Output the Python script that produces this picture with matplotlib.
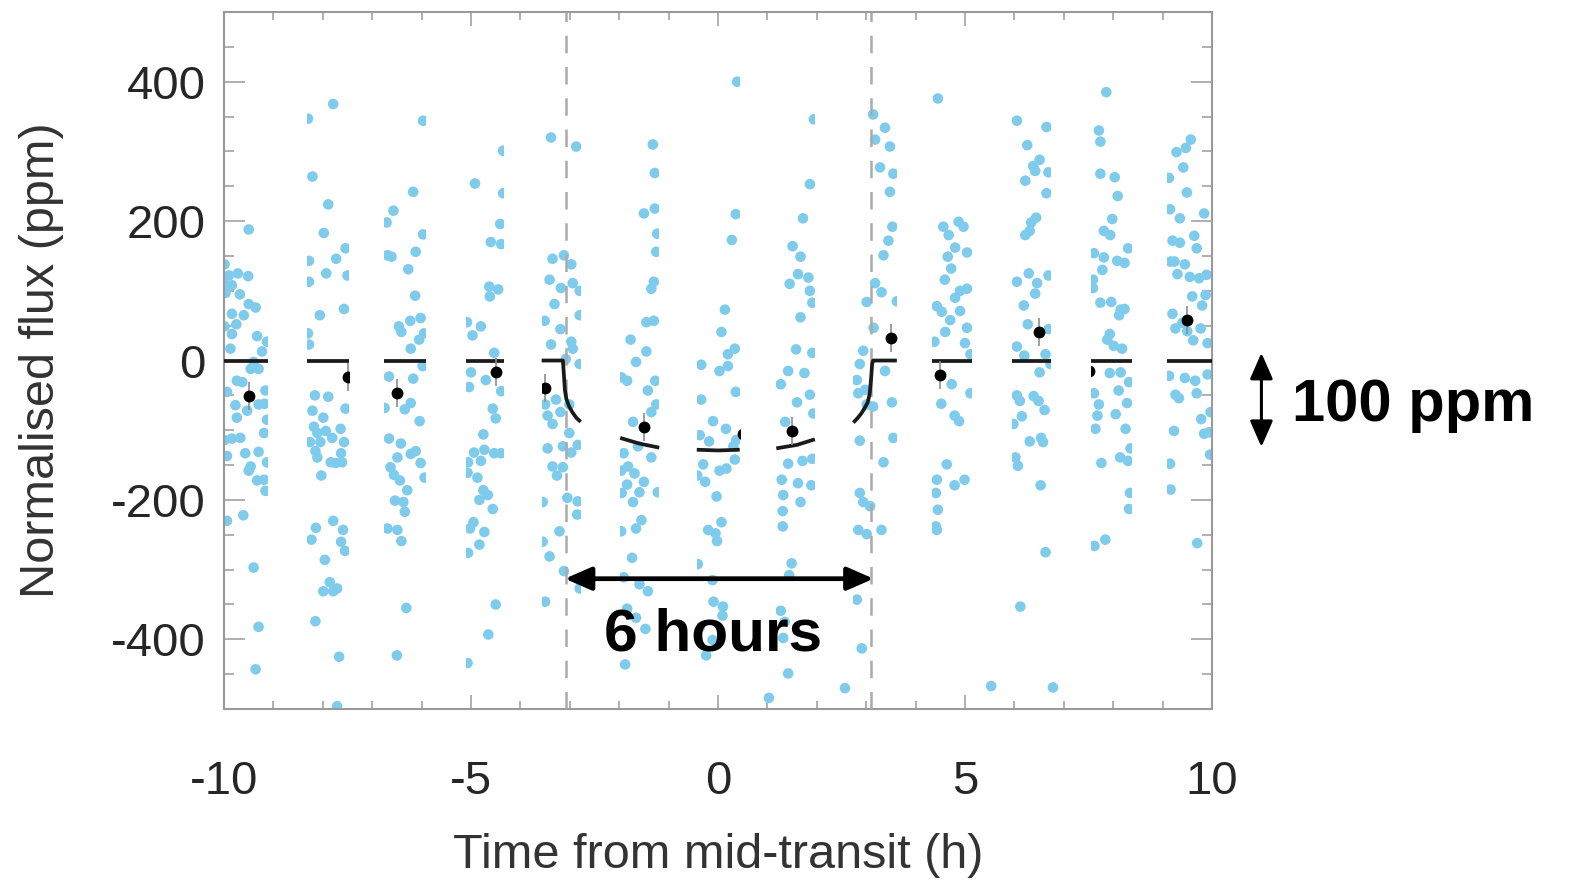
import numpy as np
import matplotlib.pyplot as plt
from matplotlib.patches import Rectangle
from matplotlib.ticker import MultipleLocator

plt.rcParams['font.family'] = ['Liberation Sans', 'DejaVu Sans']
plt.rcParams['axes.unicode_minus'] = False

# time windows covered by each orbit (h)
chunk_lo = [-10.0, -8.31, -6.76, -5.10, -3.57, -1.98, -0.43, 1.18, 2.74, 4.34, 5.96, 7.56, 9.09]
chunk_hi = [-9.11, -7.47, -5.92, -4.33, -2.78, -1.19, 0.44, 1.96, 3.62, 5.14, 6.74, 8.38, 10.0]

# unbinned points (time h, flux ppm) per orbit
chunk1 = [(-9.50, 188), (-9.99, 138), (-9.90, 122), (-9.72, 125), (-9.51, 121), (-9.99, 110), (-9.84, 108),
          (-9.97, 97), (-9.68, 95), (-9.50, 81), (-9.36, 76), (-9.84, 67), (-9.60, 65), (-9.99, 49), (-9.75, 52),
          (-9.84, 38), (-9.33, 35), (-9.87, 17), (-9.23, 13), (-9.13, 27), (-9.46, -12), (-9.30, -12), (-9.40, -2),
          (-9.74, -29), (-9.63, -31), (-9.94, -45), (-9.53, -72), (-9.16, -43), (-9.77, -64), (-9.30, -63),
          (-9.18, -62), (-9.13, -85), (-9.74, -82), (-9.99, -114), (-9.67, -111), (-9.84, -112), (-9.19, -104),
          (-9.94, -137), (-9.57, -133), (-9.30, -131), (-9.46, -152), (-9.13, -146), (-9.50, -158), (-9.33, -172),
          (-9.19, -171), (-9.16, -187), (-9.61, -222), (-9.94, -230), (-9.40, -297), (-9.30, -382), (-9.36, -443)]
chunk2 = [(-7.79, 368), (-8.30, 347), (-8.21, 264), (-7.89, 224), (-7.98, 183), (-7.54, 161), (-7.73, 146),
          (-8.28, 143), (-7.93, 125), (-8.28, 113), (-7.50, 122), (-7.57, 74), (-8.06, 65), (-8.30, 39), (-8.28, 23),
          (-8.16, -50), (-7.89, -52), (-8.21, -72), (-7.99, -82), (-7.54, -69), (-8.18, -95), (-8.11, -104),
          (-7.94, -101), (-7.81, -111), (-7.64, -98), (-8.26, -117), (-8.05, -117), (-7.57, -117), (-8.15, -130),
          (-8.11, -139), (-7.84, -146), (-7.61, -146), (-7.74, -147), (-7.63, -133), (-8.03, -165), (-7.79, -230),
          (-8.14, -240), (-7.59, -243), (-8.23, -257), (-7.63, -260), (-7.55, -273), (-7.96, -286), (-7.86, -318),
          (-7.99, -331), (-7.79, -331), (-7.71, -327), (-8.15, -374), (-7.67, -425), (-7.71, -496)]
chunk3 = [(-5.97, 344), (-6.17, 242), (-6.57, 215), (-6.71, 198), (-5.97, 181), (-6.12, 156), (-6.69, 151),
          (-6.61, 149), (-6.27, 131), (-6.13, 93), (-6.02, 61), (-6.46, 49), (-6.23, 57), (-6.41, 41), (-6.05, 30),
          (-5.95, 39), (-6.22, 17), (-5.98, -8), (-6.66, -23), (-6.17, -26), (-6.22, -61), (-6.34, -70), (-6.04, -87),
          (-6.75, -68), (-6.66, -112), (-6.42, -119), (-6.49, -139), (-6.22, -134), (-6.12, -130), (-6.02, -147),
          (-6.63, -153), (-6.56, -164), (-6.44, -172), (-5.94, -168), (-6.29, -186), (-6.54, -201), (-6.37, -203),
          (-6.34, -217), (-6.69, -241), (-6.49, -243), (-6.41, -259), (-6.31, -355), (-6.50, -423)]
chunk4 = [(-4.92, 254), (-4.35, 301), (-4.35, 240), (-4.41, 196), (-4.39, 167), (-4.60, 170), (-4.63, 106),
          (-4.45, 102), (-4.62, 92), (-4.80, 49), (-5.08, 55), (-4.97, 36), (-4.53, 11), (-5.00, -17), (-4.70, -28),
          (-4.39, -44), (-5.04, -38), (-4.56, -69), (-4.50, -83), (-4.75, -106), (-4.53, -133), (-4.94, -132),
          (-4.73, -128), (-4.39, -133), (-5.06, -146), (-4.80, -144), (-5.07, -161), (-4.87, -168), (-4.75, -186),
          (-4.66, -193), (-4.83, -200), (-4.56, -213), (-4.95, -232), (-5.02, -241), (-4.73, -246), (-4.83, -264),
          (-5.06, -276), (-4.50, -350), (-4.65, -393), (-5.07, -434)]
chunk5 = [(-3.38, 320), (-2.87, 307), (-3.35, 146), (-3.12, 151), (-2.97, 138), (-3.41, 116), (-3.18, 104),
          (-2.94, 111), (-2.80, 100), (-3.31, 81), (-2.80, 65), (-3.51, 57), (-3.19, 45), (-3.38, 23), (-2.97, 27),
          (-2.94, 17), (-2.80, -5), (-3.08, 2), (-3.50, -63), (-3.28, -56), (-3.45, -79), (-3.19, -74), (-3.01, -63),
          (-3.35, -91), (-3.01, -104), (-2.84, -121), (-3.45, -126), (-3.14, -123), (-2.97, -132), (-3.35, -152),
          (-3.14, -153), (-3.26, -165), (-3.55, -203), (-3.05, -197), (-2.84, -202), (-2.85, -221), (-3.21, -245),
          (-3.55, -260), (-3.41, -281), (-3.12, -302), (-2.80, -327), (-3.50, -346)]
chunk6 = [(-1.32, 310), (-1.28, 269), (-1.28, 218), (-1.50, 211), (-1.23, 182), (-1.25, 156), (-1.35, 103),
          (-1.30, 113), (-1.45, 55), (-1.30, 57), (-1.77, 30), (-1.45, 13), (-1.66, -2), (-1.96, -24), (-1.84, -29),
          (-1.27, -29), (-1.42, -43), (-1.25, -63), (-1.35, -74), (-1.72, -88), (-1.91, -133), (-1.62, -123),
          (-1.35, -139), (-1.82, -152), (-1.96, -158), (-1.69, -162), (-1.50, -174), (-1.84, -178), (-1.95, -190),
          (-1.59, -189), (-1.22, -189), (-1.72, -203), (-1.96, -245), (-1.66, -241), (-1.55, -229), (-1.74, -283),
          (-1.91, -311), (-1.59, -321), (-1.42, -331), (-1.84, -356), (-1.66, -369), (-1.47, -385), (-1.88, -436)]
chunk7 = [(0.39, 400), (0.36, 210), (0.28, 173), (0.14, 73), (0.07, 41), (0.34, 17), (0.20, 9), (-0.34, -6),
          (0.03, -15), (0.20, -8), (0.36, -45), (-0.34, -56), (-0.10, -87), (0.16, -98), (-0.37, -107), (0.37, -114),
          (-0.18, -116), (0.31, -123), (-0.30, -149), (0.03, -158), (0.17, -155), (0.34, -142), (-0.42, -165),
          (-0.26, -174), (-0.03, -195), (0.07, -232), (-0.20, -243), (-0.05, -248), (-0.02, -259), (-0.41, -292),
          (-0.11, -315), (-0.09, -346), (0.10, -353), (-0.37, -383), (-0.11, -401), (-0.24, -423), (0.09, -366)]
chunk8 = [(1.94, 346), (1.86, 253), (1.72, 204), (1.51, 164), (1.67, 149), (1.62, 124), (1.83, 119), (1.45, 110),
          (1.86, 100), (1.91, 83), (1.67, 62), (1.58, 16), (1.91, 11), (1.42, -15), (1.75, -18), (1.27, -34),
          (1.86, -49), (1.93, -76), (1.60, -60), (1.36, -88), (1.42, -148), (1.71, -144), (1.91, -141), (1.29, -171),
          (1.62, -176), (1.89, -179), (1.32, -193), (1.67, -203), (1.31, -216), (1.31, -238), (1.49, -291),
          (1.44, -308), (1.27, -359), (1.35, -375), (1.32, -398), (1.42, -449)]
chunk9 = [(3.14, 353), (3.38, 334), (3.18, 317), (3.48, 307), (3.28, 277), (3.55, 268), (3.48, 242), (3.53, 192),
          (3.45, 172), (3.35, 151), (3.18, 111), (3.31, 98), (3.01, 84), (3.62, 85), (3.15, 47), (2.94, 14),
          (2.87, -5), (3.38, -15), (2.81, -28), (2.98, -42), (2.84, -47), (3.52, -60), (3.01, -63), (3.14, -66),
          (2.87, -115), (3.55, -111), (3.35, -146), (2.87, -190), (2.94, -203), (3.08, -209), (3.31, -243),
          (2.84, -243), (3.01, -249), (2.81, -343), (2.91, -413)]
chunk10 = [(4.45, 376), (4.56, 192), (4.67, 180), (4.87, 199), (4.97, 192), (4.80, 162), (4.65, 149), (5.04, 155),
           (4.72, 132), (4.59, 116), (4.90, 100), (5.04, 103), (4.80, 90), (4.43, 78), (4.53, 70), (4.70, 58),
           (4.90, 71), (4.60, 41), (5.04, 47), (5.00, 25), (4.38, 27), (5.11, 9), (4.73, -34), (5.11, -47),
           (4.52, -62), (4.79, -79), (4.88, -87), (4.63, -149), (4.99, -171), (4.79, -179), (4.43, -171),
           (4.41, -190), (4.45, -214), (4.41, -238), (4.43, -243)]
chunk11 = [(6.05, 344), (6.65, 335), (6.26, 309), (6.51, 288), (6.38, 279), (6.69, 270), (6.22, 258), (6.42, 272),
           (6.65, 240), (6.44, 205), (6.34, 198), (6.31, 186), (6.22, 180), (6.05, 113), (6.29, 125), (6.46, 111),
           (6.42, 96), (6.69, 122), (6.19, 79), (6.27, 52), (6.69, 45), (6.05, 20), (6.20, 7), (6.63, 9), (6.51, -17),
           (6.73, -5), (6.05, -50), (6.11, -58), (6.39, -51), (6.49, -58), (6.61, -71), (6.15, -80), (5.98, -91),
           (6.54, -111), (6.58, -117), (6.31, -116), (6.02, -139), (6.07, -151), (6.53, -179), (6.63, -275),
           (6.12, -353)]
chunk12 = [(7.86, 385), (7.71, 330), (7.74, 314), (7.74, 268), (8.03, 263), (8.09, 236), (7.98, 203), (7.81, 186),
           (7.94, 180), (7.61, 154), (7.81, 148), (8.08, 143), (8.23, 140), (8.30, 161), (7.78, 130), (7.59, 116),
           (7.59, 104), (7.74, 83), (7.96, 84), (8.15, 73), (8.23, 74), (8.12, 65), (7.93, 38), (7.88, 30),
           (8.01, 21), (8.18, 17), (7.93, -18), (8.15, -17), (8.32, -31), (7.61, -47), (8.11, -43), (8.28, -61),
           (7.71, -63), (7.68, -79), (8.05, -77), (7.64, -98), (8.25, -98), (8.35, -126), (8.14, -139),
           (8.30, -144), (7.76, -147), (8.34, -190), (8.32, -213), (7.84, -257), (7.62, -266)]
chunk13 = [(9.57, 317), (9.28, 299), (9.47, 305), (9.42, 277), (9.13, 262), (9.49, 241), (9.35, 204), (9.84, 211),
           (9.15, 217), (9.20, 172), (9.35, 169), (9.64, 179), (9.69, 161), (9.16, 142), (9.24, 142), (9.45, 138),
           (9.55, 120), (9.74, 118), (9.89, 123), (9.30, 124), (9.60, 92), (9.87, 94), (9.80, 79), (9.20, 67),
           (9.26, 46), (9.40, 54), (9.50, 42), (9.77, 46), (9.62, 29), (9.91, 25), (9.13, -22), (9.45, -25),
           (9.66, -29), (9.91, -20), (9.69, -47), (9.26, -49), (9.33, -54), (9.78, -84), (9.97, -74), (9.23, -101),
           (9.84, -105), (9.94, -103), (9.96, -135), (9.15, -148), (9.16, -185), (9.70, -262)]
chunks = [chunk1, chunk2, chunk3, chunk4, chunk5, chunk6, chunk7, chunk8, chunk9, chunk10, chunk11, chunk12, chunk13]

# a few low points that sit outside the orbit windows
stray_t = [1.03, 2.57, 5.53, 6.78]
stray_f = [-484, -470, -467, -469]

# hourly bins
bin_t = np.array([-9.5, -7.5, -6.5, -4.5, -3.5, -1.5, 0.5, 1.5, 3.5, 4.5, 6.5, 7.5, 9.5])
bin_f = np.array([-51, -24, -47, -17, -40, -95, -105, -101, 32, -21, 41, -15, 58])
bin_err = 20

# transit model
model_t = np.array([-10.0, -9.11, -8.31, -7.47, -6.76, -5.92, -5.10, -4.33,
                    -3.57, -3.14, -3.12, -3.10, -3.07, -3.02, -2.95, -2.87, -2.78,
                    -1.98, -1.60, -1.19, -0.43, 0.0, 0.44, 1.18, 1.60, 1.96,
                    2.74, 2.82, 2.90, 2.97, 3.03, 3.07, 3.10, 3.12, 3.14, 3.62,
                    4.34, 5.14, 5.96, 6.74, 7.56, 8.38, 9.09, 10.0])
model_f = np.array([0, 0, 0, 0, 0, 0, 0, 0,
                    0, 0, -20, -42, -55, -65, -74, -82, -88,
                    -111, -119, -125, -128, -129, -128, -126, -121, -113,
                    -89, -83, -76, -68, -60, -48, -25, -5, 0, 0,
                    0, 0, 0, 0, 0, 0, 0, 0])

transit_edges = [-3.07, 3.10]

blue = '#7ecbec'
grey = '#9a9a9a'

fig = plt.figure(figsize=(15.72, 8.83), dpi=100)
ax = fig.add_axes([0.1425, 0.197, 0.6285, 0.7894])

for lo, hi, pts in zip(chunk_lo, chunk_hi, chunks):
    clip = Rectangle((lo, -500), hi - lo, 1000, transform=ax.transData)
    t, f = np.array(pts, dtype=float).T
    sc = ax.scatter(t, f, s=58, color=blue, edgecolors='none', zorder=2)
    sc.set_clip_path(clip)
    m = (model_t >= lo - 1e-6) & (model_t <= hi + 1e-6)
    ax.plot(model_t[m], model_f[m], color='#1a1a1a', lw=2.7, zorder=4, solid_capstyle='butt')
    b = (bin_t > lo - 0.3) & (bin_t < hi + 0.3)
    for bt, bf in zip(bin_t[b], bin_f[b]):
        eb = ax.vlines(bt, bf - bin_err, bf + bin_err, color='#8c8c8c', lw=1.2, zorder=5)
        eb.set_clip_path(clip)
        pt, = ax.plot(bt, bf, 'o', color='k', ms=7.5, zorder=6)
        pt.set_clip_path(clip)

ax.scatter(stray_t, stray_f, s=58, color=blue, edgecolors='none', zorder=2)

for xe in transit_edges:
    ax.axvline(xe, color='#aaaaaa', lw=1.8, ls=(0, (7, 5.5)), zorder=3)

# annotations
ax.annotate('', xy=(3.15, -313), xytext=(-3.10, -313),
            arrowprops=dict(arrowstyle='<|-|>,head_length=0.8,head_width=0.35', lw=3.4, color='k',
                            shrinkA=0, shrinkB=0, mutation_scale=20))
ax.text(-0.10, -416, '6 hours', fontsize=43.5, fontweight='bold', ha='center', va='baseline', zorder=7)
ax.annotate('', xy=(11.0, 11), xytext=(11.0, -124), annotation_clip=False,
            arrowprops=dict(arrowstyle='<|-|>,head_length=0.8,head_width=0.35', lw=2.2, color='k',
                            shrinkA=0, shrinkB=0, mutation_scale=20, clip_on=False))
ax.text(11.62, -87, '100 ppm', fontsize=43, fontweight='bold', ha='left', va='baseline', clip_on=False)

ax.set_xlim(-10, 10)
ax.set_ylim(-500, 500)
ax.set_xticks([-10, -5, 0, 5, 10])
ax.xaxis.set_minor_locator(MultipleLocator(1))
ax.set_yticks([-400, -200, 0, 200, 400])
ax.yaxis.set_minor_locator(MultipleLocator(50))
ax.tick_params(which='both', direction='in', top=True, right=True, color=grey, width=1.1,
               labelcolor='#262626', labelsize=34)
ax.tick_params(axis='x', which='major', length=10, pad=37)
ax.tick_params(axis='x', which='minor', length=5.5)
ax.tick_params(axis='y', which='major', length=15, pad=13)
ax.tick_params(axis='y', which='minor', length=7.5)
for s in ax.spines.values():
    s.set_color(grey)
    s.set_linewidth(1.5)

fig.text(42 / 1572, 1 - 360 / 883, 'Normalised flux (ppm)', rotation=90, fontsize=35,
         color='#333333', ha='center', va='center')
fig.text(718 / 1572, 1 - 855 / 883, 'Time from mid-transit (h)', fontsize=35,
         color='#333333', ha='center', va='center')

fig.savefig('out.png', dpi=100)
